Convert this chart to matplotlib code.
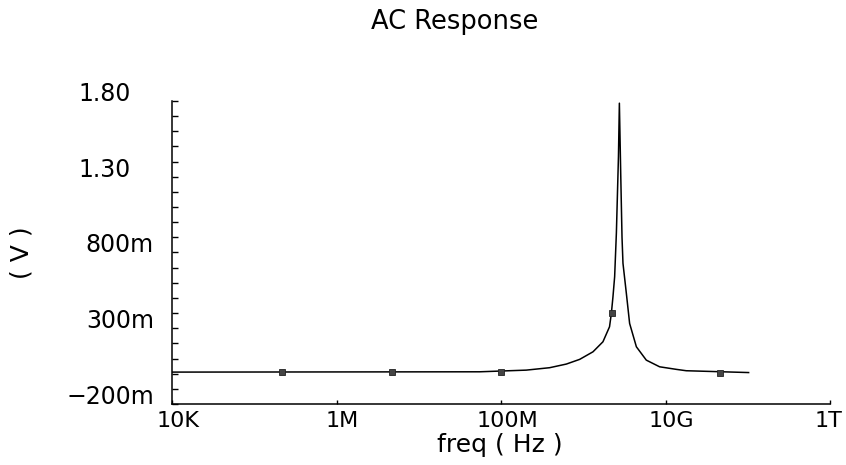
import matplotlib
matplotlib.use("Agg")
import matplotlib.pyplot as plt
import matplotlib.transforms as mtrans
import numpy as np

# ---- data ----
freq_hz = [1e4, 5.48e7, 2.02e8, 3.89e8, 6.21e8, 9.02e8, 1.31e9, 1.73e9,
           2.08e9, 2.19e9, 2.29e9, 2.40e9, 2.52e9, 2.67e9, 2.74e9, 2.85e9,
           2.95e9, 3.03e9, 3.33e9, 3.65e9, 4.41e9, 5.82e9, 8.45e9, 1.35e10,
           1.78e10, 1.02e11]
volts = [0.011, 0.013, 0.024, 0.040, 0.064, 0.095, 0.145, 0.211,
         0.310, 0.399, 0.508, 0.640, 0.929, 1.432, 1.785, 1.30,
         0.90, 0.729, 0.531, 0.332, 0.178, 0.090, 0.046, 0.029,
         0.020, 0.008]

marker_freq = [2.20e5, 4.67e6, 9.86e7, 2.20e9, 4.54e10]
marker_volts = [0.011, 0.011, 0.013, 0.40, 0.005]

x_ticks = [1e4, 1e6, 1e8, 1e10, 1e12]
x_ticklabels = ["10K", "1M", "100M", "10G", "1T"]
y_ticks = [-0.2, 0.3, 0.8, 1.3, 1.8]
y_ticklabels = ["\u2212200m", "300m", "800m", "1.30", "1.80"]

title = "AC Response"
xlabel = "freq ( Hz )"
ylabel = "( V )"

# ---- figure ----
fig = plt.figure(figsize=(8.46, 4.65), dpi=100)
ax = fig.add_axes([0.2033, 0.131, 0.778, 0.652])

ax.plot(freq_hz, volts, color="black", lw=1.1)
ax.plot(marker_freq, marker_volts, ls="none", marker="s", ms=5,
        mfc="#444444", mec="#222222", mew=0.6)

ax.set_xscale("log")
ax.set_xlim(1e4, 1e12)
ax.set_ylim(-0.2, 1.8)

for s in ["top", "right"]:
    ax.spines[s].set_visible(False)
for s in ["left", "bottom"]:
    ax.spines[s].set_linewidth(1.1)

fam = "DejaVu Sans"
ax.set_xticks(x_ticks)
ax.set_xticklabels(x_ticklabels, fontsize=16, family=fam)
ax.xaxis.set_minor_locator(matplotlib.ticker.NullLocator())
ax.tick_params(axis="x", direction="in", length=3, width=1, pad=5)
xlabs = ax.get_xticklabels()
for lab in xlabs[:-1]:
    lab.set_transform(lab.get_transform() +
                      mtrans.ScaledTranslation(0.06, 0, fig.dpi_scale_trans))
xlabs[-1].set_ha("right")
xlabs[-1].set_transform(xlabs[-1].get_transform() +
                        mtrans.ScaledTranslation(0.12, 0, fig.dpi_scale_trans))

ax.set_yticks(np.round(np.arange(-0.2, 1.81, 0.1), 2), minor=True)
ax.set_yticks(y_ticks)
ax.set_yticklabels(y_ticklabels, fontsize=17, family=fam, va="baseline")
ax.tick_params(axis="y", which="both", direction="in", length=4, width=1, pad=13)
yt = ax.yaxis.get_major_ticks()
for i in (3, 4):
    yt[i].set_pad(30)

fig.text(0.538, 0.952, title, ha="center", va="center", fontsize=18.5,
         family=fam)
fig.text(0.591, 0.042, xlabel, ha="center", va="center", fontsize=18,
         family=fam)
fig.text(0.026, 0.456, ylabel, ha="center", va="center", fontsize=18,
         rotation=90, family=fam)

fig.savefig("out.png", dpi=100)
